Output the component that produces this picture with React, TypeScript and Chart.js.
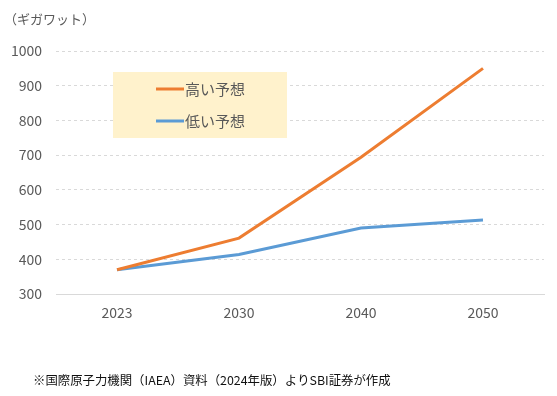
import React, { useEffect, useRef } from "react";
import { Chart, registerables } from "chart.js";

Chart.register(...registerables);

const years = ["2023", "2030", "2040", "2050"];
const highCase = [370, 461, 694, 950];
const lowCase = [370, 414, 490, 513];
const seriesNames = ["高い予想", "低い予想"];
const yTicks = [300, 400, 500, 600, 700, 800, 900, 1000];
const unitLabel = "（ギガワット）";
const footnote = "※国際原子力機関（IAEA）資料（2024年版）よりSBI証券が作成";

const FONT = "'Noto Sans CJK JP', 'Noto Sans', sans-serif";

const overlayPlugin = {
  id: "overlay",
  afterDraw(chart: any) {
    const ctx = chart.ctx;
    ctx.save();
    ctx.fillStyle = "#595959";
    ctx.font = `13px ${FONT}`;
    ctx.textBaseline = "middle";
    ctx.textAlign = "left";
    ctx.fillText(unitLabel, 4, 19);
    ctx.fillStyle = "#111111";
    ctx.font = `12.4px ${FONT}`;
    ctx.fillText(footnote, 33, 380);
    ctx.fillStyle = "#FFF2CC";
    ctx.fillRect(113, 72, 174, 66);
    const ys = [89, 121];
    chart.data.datasets.forEach((ds: any, i: number) => {
      ctx.strokeStyle = ds.borderColor;
      ctx.lineWidth = 3;
      ctx.beginPath();
      ctx.moveTo(156, ys[i]);
      ctx.lineTo(184, ys[i]);
      ctx.stroke();
      ctx.fillStyle = "#595959";
      ctx.font = `15px ${FONT}`;
      ctx.fillText(ds.label, 185, ys[i]);
    });
    ctx.restore();
  },
};

export default function App() {
  const ref = useRef<HTMLCanvasElement>(null);
  useEffect(() => {
    document.body.style.margin = "0";
    const chart = new Chart(ref.current!, {
      type: "line",
      data: {
        labels: years,
        datasets: [
          {
            label: seriesNames[0],
            data: highCase,
            borderColor: "#ED7D31",
            backgroundColor: "#ED7D31",
            borderWidth: 3,
            pointRadius: 0,
            tension: 0,
          },
          {
            label: seriesNames[1],
            data: lowCase,
            borderColor: "#5B9BD5",
            backgroundColor: "#5B9BD5",
            borderWidth: 3,
            pointRadius: 0,
            tension: 0,
          },
        ],
      },
      options: {
        animation: false,
        responsive: false,
        layout: { padding: { left: 0, right: 13, top: 51, bottom: 0 } },
        plugins: { legend: { display: false }, tooltip: { enabled: false } },
        scales: {
          x: {
            offset: true,
            grid: { display: false, drawTicks: false },
            border: { display: true, color: "#D9D9D9", width: 1 },
            ticks: { color: "#595959", font: { family: FONT, size: 14 }, padding: 10 },
            afterFit(scale: any) {
              scale.height = 102;
            },
          },
          y: {
            min: yTicks[0],
            max: yTicks[yTicks.length - 1],
            afterBuildTicks(scale: any) {
              scale.ticks = yTicks.map((v) => ({ value: v }));
            },
            grid: {
              drawTicks: false,
              color: (c: any) => (c.tick && c.tick.value === yTicks[0] ? "rgba(0,0,0,0)" : "#D9D9D9"),
              lineWidth: 1,
            },
            border: { display: false, dash: [3, 3] },
            ticks: {
              color: "#595959",
              font: { family: FONT, size: 14 },
              padding: 14,
              callback: (v: any) => String(v),
            },
            afterFit(scale: any) {
              scale.width = 56;
            },
          },
        },
      },
      plugins: [overlayPlugin],
    });
    return () => chart.destroy();
  }, []);
  return (
    <div style={{ position: "fixed", left: 0, top: 0, width: 557, height: 396, background: "#fff" }}>
      <canvas ref={ref} width={557} height={396} style={{ width: 557, height: 396 }} />
    </div>
  );
}
